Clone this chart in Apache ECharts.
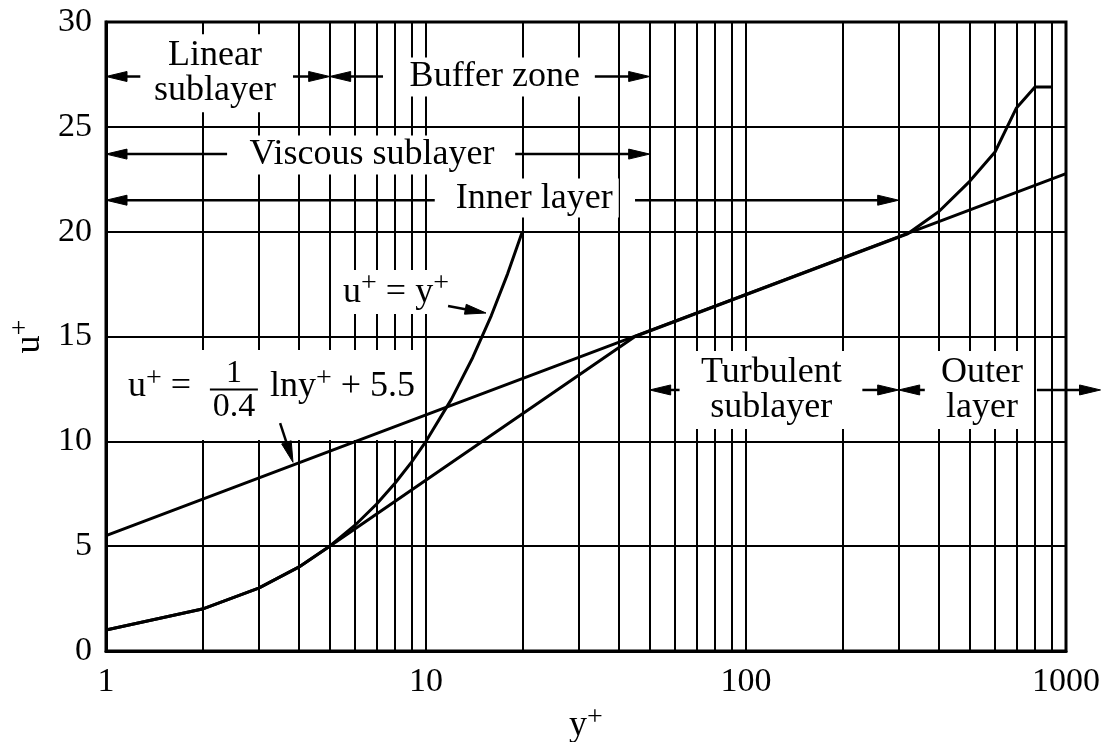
<!DOCTYPE html>
<html>
<head>
<meta charset="utf-8">
<script src="https://cdn.jsdelivr.net/npm/echarts@6/dist/echarts.min.js"></script>
<style>
html, body { margin: 0; padding: 0; background: #fff; }
#c { width: 1106px; height: 742px; }
</style>
</head>
<body>
<div id="c"></div>
<script>
const FONT = '"Liberation Serif", "DejaVu Serif", "Times New Roman", serif';

// Axis ticks
const xTicks = [1, 10, 100, 1000];
const yTicks = [0, 5, 10, 15, 20, 25, 30];
// Intermediate vertical grid lines of the log paper
const xMinorGrid = [2, 3, 4, 5, 6, 7, 8, 9, 20, 30, 40, 50, 60, 70, 80, 90, 200, 300, 400, 500, 600, 700, 800, 900];

// Log law u+ = (1/0.4) ln y+ + 5.5
const logLawYp = [1, 10, 100, 1000];
const logLawUp = [5.5, 11.26, 17.01, 22.77];

// Linear law u+ = y+
const linearYp = [1, 2, 3, 4, 5, 6, 7, 8, 9, 10, 12, 14, 16, 18, 20];
const linearUp = [1, 2, 3, 4, 5, 6, 7, 8, 9, 10, 12, 14, 16, 18, 20];

// Velocity profile (viscous sublayer, buffer, log region, outer wake)
const profileYp = [1, 2, 3, 4, 5, 45, 320, 400, 500, 600, 700, 800, 900];
const profileUp = [1, 2, 3, 4, 5, 15, 19.9, 20.95, 22.4, 23.8, 25.9, 26.9, 26.9];

// Annotation arrows: start (y+, u+) -> tip (y+, u+)
const arrowFromYp = [1.28, 3.84, 7.34, 33.7, 2.39, 19.0, 10.65, 45, 62, 231, 362, 811, 11.72, 3.5];
const arrowFromUp = [27.4, 27.4, 27.4, 27.4, 23.7, 23.7, 21.5, 21.5, 12.45, 12.45, 12.45, 12.45, 16.45, 10.87];
const arrowToYp   = [1, 5, 5, 50, 1, 50, 1, 300, 50, 300, 300, 1282, 15.4, 3.84];
const arrowToUp   = [27.4, 27.4, 27.4, 27.4, 23.7, 23.7, 21.5, 21.5, 12.45, 12.45, 12.45, 12.45, 16.12, 9.0];

// Annotation texts and anchor positions (y+, u+)
const annotTexts = [
  'Linear\nsublayer',
  'Buffer zone',
  'Viscous sublayer',
  'Inner layer',
  'Turbulent\nsublayer',
  'Outer\nlayer',
  '{t|u}{sup|+}{t| = y}{sup|+}',
  '{t|u}{sup|+}{t| =}',
  '{n|1}\n{bar|}\n{d|0.4}',
  '{t|lny}{sup|+}{t| + 5.5}'
];
const annotYp = [2.19, 16.4, 6.78, 21.8, 120, 546, 5.35, 1.138, 2.51, 3.162];
const annotUp = [27.55, 27.38, 23.66, 21.6, 12.45, 12.45, 17.12, 12.21, 12.21, 12.21];
const annotAlign = ['center', 'center', 'center', 'center', 'center', 'center', 'left', 'left', 'center', 'left'];
const annotPad = [
  [4, 6, 4, 6], [2, 6, 2, 6], [2, 6, 2, 6], [2, 6, 2, 6], [4, 6, 4, 6], [4, 6, 4, 6],
  [0, 4, 0, 4], [15, 6, 31, 4], [11, 8, 18, 8], [15, 6, 31, 4]
];

const RICH = {
  t:   { fontSize: 36, fontFamily: FONT, lineHeight: 44, fill: '#000', color: '#000' },
  sup: { fontSize: 28, fontFamily: FONT, lineHeight: 24, verticalAlign: 'top', fill: '#000', color: '#000' },
  n:   { fontSize: 32, fontFamily: FONT, lineHeight: 26, align: 'center', fill: '#000' },
  bar: { width: 48, height: 2, lineHeight: 5, backgroundColor: '#000', align: 'center' },
  d:   { fontSize: 34, fontFamily: FONT, lineHeight: 30, align: 'center', fill: '#000' }
};

const pairs = (xs, ys) => xs.map((x, i) => [x, ys[i]]);

function renderText(params, api) {
  const i = params.dataIndex;
  const p = api.coord([api.value(0), api.value(1)]);
  return {
    type: 'text',
    x: p[0], y: p[1],
    silent: true,
    style: {
      text: annotTexts[i],
      fill: '#000',
      font: '36px ' + FONT,
      align: annotAlign[i],
      verticalAlign: 'middle',
      lineHeight: 35,
      backgroundColor: '#fff',
      padding: annotPad[i],
      rich: RICH
    }
  };
}

function renderArrow(params, api) {
  const p1 = api.coord([api.value(0), api.value(1)]);
  const p2 = api.coord([api.value(2), api.value(3)]);
  const dx = p2[0] - p1[0], dy = p2[1] - p1[1];
  const len = Math.sqrt(dx * dx + dy * dy) || 1;
  const ux = dx / len, uy = dy / len;
  const L = 21, W = 5;
  const bx = p2[0] - ux * L, by = p2[1] - uy * L;
  return {
    type: 'group',
    silent: true,
    children: [
      { type: 'line', shape: { x1: p1[0], y1: p1[1], x2: bx + ux * 4, y2: by + uy * 4 },
        style: { stroke: '#000', lineWidth: 2.5 } },
      { type: 'polygon', shape: { points: [[p2[0], p2[1]], [bx - uy * W, by + ux * W], [bx + uy * W, by - ux * W]] },
        style: { fill: '#000', stroke: '#000', lineWidth: 1 } }
    ]
  };
}

const curveStyle = { color: '#000', width: 3 };
const nameRich = {
  t: { fontSize: 36, fontFamily: FONT, lineHeight: 44, color: '#000' },
  sup: { fontSize: 28, fontFamily: FONT, lineHeight: 24, verticalAlign: 'top', color: '#000' }
};

const option = {
  animation: false,
  backgroundColor: '#fff',
  grid: {
    left: 106, right: 40, top: 22, bottom: 91,
    show: true, borderColor: '#000', borderWidth: 3,
    containLabel: false, outerBoundsMode: 'none'
  },
  xAxis: {
    type: 'log', logBase: 10, min: 1, max: 1000,
    name: '{t|y}{sup|+}',
    nameLocation: 'middle', nameGap: 46,
    nameTextStyle: { color: '#000', fontFamily: FONT, fontSize: 36, rich: nameRich },
    axisLine: { show: true, lineStyle: { color: '#000', width: 3 } },
    axisTick: { show: false },
    axisLabel: {
      color: '#000', fontFamily: FONT, fontSize: 34, margin: 14,
      formatter: v => { const r = Math.round(v); return xTicks.includes(r) ? String(r) : ''; }
    },
    splitLine: { show: true, lineStyle: { color: '#000', width: 2 } }
  },
  yAxis: {
    type: 'value', min: 0, max: 30, interval: 5,
    name: '{t|u}{sup|+}',
    nameLocation: 'middle', nameRotate: 90, nameGap: 52,
    nameTextStyle: { color: '#000', fontFamily: FONT, fontSize: 36, rich: nameRich },
    axisLine: { show: true, lineStyle: { color: '#000', width: 3 } },
    axisTick: { show: false },
    axisLabel: {
      color: '#000', fontFamily: FONT, fontSize: 34, margin: 14,
      formatter: v => yTicks.includes(v) ? String(v) : ''
    },
    splitLine: { show: true, lineStyle: { color: '#000', width: 2 } }
  },
  series: [
    {
      name: 'grid', type: 'line', data: [], z: 1, silent: true,
      markLine: {
        z: 1, zlevel: 0,
        silent: true, animation: false,
        symbol: ['none', 'none'],
        label: { show: false },
        lineStyle: { color: '#000', width: 2, type: 'solid' },
        emphasis: { disabled: true },
        data: xMinorGrid.map(v => ({ xAxis: v }))
      }
    },
    {
      name: 'labels', type: 'custom', z: 2, silent: true,
      renderItem: renderText,
      encode: { x: 0, y: 1 },
      data: pairs(annotYp, annotUp)
    },
    {
      name: 'log law', type: 'line', z: 3, silent: true,
      symbol: 'none', lineStyle: curveStyle,
      data: pairs(logLawYp, logLawUp)
    },
    {
      name: 'u+ = y+', type: 'line', z: 3, silent: true,
      symbol: 'none', lineStyle: curveStyle,
      data: pairs(linearYp, linearUp)
    },
    {
      name: 'profile', type: 'line', z: 3, silent: true,
      symbol: 'none', lineStyle: curveStyle,
      data: pairs(profileYp, profileUp)
    },
    {
      name: 'arrows', type: 'custom', z: 4, silent: true, clip: false,
      renderItem: renderArrow,
      encode: { x: [0, 2], y: [1, 3] },
      data: arrowFromYp.map((x, i) => [x, arrowFromUp[i], arrowToYp[i], arrowToUp[i]])
    }
  ]
};

const chart = echarts.init(document.getElementById('c'), null, { renderer: 'canvas' });
chart.setOption(option);
</script>
</body>
</html>
